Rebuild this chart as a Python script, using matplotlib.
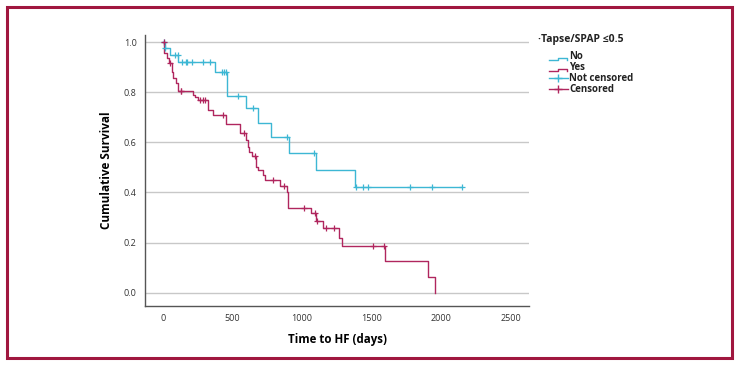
import numpy as np
import matplotlib.pyplot as plt
from matplotlib.lines import Line2D
from matplotlib.legend_handler import HandlerLine2D
from matplotlib.patches import Rectangle

plt.rcParams['font.family'] = ['Open Sans', 'DejaVu Sans']

# step curves: time of each drop and survival after it
no_t = [0, 12, 50, 108, 374, 460, 595, 683, 776, 905, 1098, 1381, 2149]
no_s = [1.0, 0.975, 0.950, 0.922, 0.882, 0.786, 0.735, 0.677, 0.622, 0.558, 0.489, 0.423, 0.423]
no_cens = [5, 18, 86, 106, 134, 165, 173, 206, 285, 338, 422, 439, 453, 540,
           645, 895, 1090, 1388, 1437, 1473, 1777, 1937, 2149]

yes_t = [0, 8, 26, 40, 62, 74, 92, 110, 213, 230, 250, 326, 362, 451, 554, 597,
         609, 621, 638, 669, 686, 717, 734, 842, 890, 901, 1066, 1100, 1153, 1269,
         1285, 1597, 1904, 1957]
yes_s = [1.0, 0.955, 0.937, 0.915, 0.882, 0.855, 0.835, 0.805, 0.790, 0.782, 0.769,
         0.729, 0.707, 0.672, 0.636, 0.609, 0.582, 0.562, 0.545, 0.503, 0.489,
         0.469, 0.450, 0.424, 0.403, 0.336, 0.317, 0.287, 0.257, 0.220, 0.186,
         0.125, 0.064, 0.0]
yes_cens = [6, 50, 128, 132, 266, 285, 302, 429, 580, 662, 792, 872, 1012, 1094,
            1105, 1173, 1233, 1513, 1590]

c_no = '#3db7d4'
c_yes = '#b0265e'


def surv_at(times, surv, pts):
    idx = np.searchsorted(times, pts, side='right') - 1
    return np.array(surv)[idx]


class StepHandler(HandlerLine2D):
    def create_artists(self, legend, orig, xd, yd, w, h, fontsize, trans):
        y0 = yd - h * 0.15
        xs = [xd, xd + w * 0.5, xd + w * 0.5, xd + w * 0.95, xd + w * 0.95]
        ys = [y0, y0, y0 + h * 0.35, y0 + h * 0.35, y0]
        ln = Line2D(xs, ys, color=orig.get_color(), lw=1.0)
        ln.set_transform(trans)
        return [ln]


fig = plt.figure(figsize=(7.38, 3.66), dpi=100)
ax = fig.add_axes([0.1965, 0.1639, 0.5203, 0.7405])

ax.step(no_t, no_s, where='post', color=c_no, lw=1.0)
ax.step(yes_t, yes_s, where='post', color=c_yes, lw=1.0)
ax.plot(no_cens, surv_at(no_t, no_s, no_cens), '+', color=c_no, ms=4.5, mew=0.9)
ax.plot(yes_cens, surv_at(yes_t, yes_s, yes_cens), '+', color=c_yes, ms=4.5, mew=0.9)

ax.set_xlim(-129, 2633)
ax.set_ylim(-0.053, 1.028)
ax.set_xticks([0, 500, 1000, 1500, 2000, 2500])
ax.set_yticks([0.0, 0.2, 0.4, 0.6, 0.8, 1.0])
ax.set_yticklabels(['0.0', '0.2', '0.4', '0.6', '0.8', '1.0'])
ax.tick_params(length=0, labelsize=6.5, colors='#333333', pad=6)
ax.grid(axis='y', color='#c8c8c8', lw=1.0)
ax.set_axisbelow(True)
for s in ['top', 'right']:
    ax.spines[s].set_visible(False)
for s in ['left', 'bottom']:
    ax.spines[s].set_color('#555555')
    ax.spines[s].set_linewidth(1.0)

ax.set_xlabel('Time to HF (days)', fontsize=8.3, fontweight='bold', labelpad=7)
ax.set_ylabel('Cumulative Survival', fontsize=8.5, fontweight='bold', labelpad=8)

# legend: title as plain text, entries indented below it
fig.text(0.729, 0.893, '\u00b7Tapse/SPAP \u22640.5', fontsize=7.5, fontweight='bold',
         ha='left', va='center', color='#222222')
handles = [Line2D([], [], color=c_no), Line2D([], [], color=c_yes),
           Line2D([], [], color=c_no, marker='+', ms=6, lw=1.0),
           Line2D([], [], color=c_yes, marker='+', ms=6, lw=1.0)]
labels = ['No', 'Yes', 'Not censored', 'Censored']
leg = fig.legend(handles, labels, loc='upper left', bbox_to_anchor=(0.744, 0.86),
                 frameon=False, fontsize=7, handlelength=1.9, handletextpad=0.2,
                 labelspacing=0.0, borderaxespad=0, borderpad=0,
                 handler_map={handles[0]: StepHandler(), handles[1]: StepHandler()})
for t in leg.get_texts():
    t.set_fontweight('bold')
    t.set_color('#222222')

fig.patches.append(Rectangle((0.0095, 0.023), 0.982, 0.957, transform=fig.transFigure,
                             fill=False, edgecolor='#a0173f', lw=2.2))

fig.savefig('out.png', dpi=100)
